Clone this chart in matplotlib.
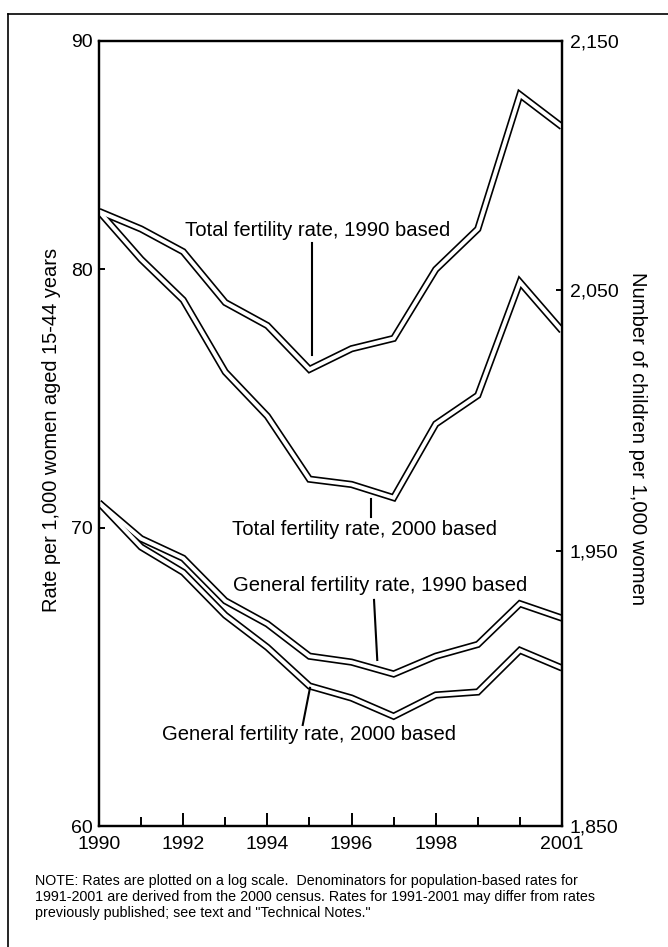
import matplotlib
matplotlib.use("Agg")
import matplotlib.pyplot as plt
from matplotlib.ticker import FixedLocator, NullLocator, FuncFormatter
from matplotlib.lines import Line2D

plt.rcParams['font.family'] = ['Liberation Sans', 'DejaVu Sans']

# ---- data ----
years = [1990, 1991, 1992, 1993, 1994, 1995, 1996, 1997, 1998, 1999, 2000, 2001]
tfr_1990_based = [2081, 2074, 2065, 2045, 2036, 2019, 2027, 2031, 2058, 2074, 2128, 2115]
tfr_2000_based = [2081, 2062, 2046, 2018, 2001, 1977, 1975, 1970, 1998, 2009, 2053, 2034]
gfr_1990_based = [70.9, 69.6, 68.9, 67.4, 66.6, 65.5, 65.3, 64.9, 65.5, 65.9, 67.3, 66.8]
gfr_2000_based = [70.9, 69.3, 68.4, 66.9, 65.8, 64.5, 64.1, 63.5, 64.2, 64.3, 65.7, 65.1]

x_major_ticks = [1990, 1992, 1994, 1996, 1998, 2001]
x_minor_ticks = [1991, 1993, 1995, 1997, 1999, 2000]
left_ticks = [60, 70, 80, 90]
right_ticks = [1850, 1950, 2050, 2150]

left_label = "Rate per 1,000 women aged 15-44 years"
right_label = "Number of children per 1,000 women"
note_lines = [
    "NOTE: Rates are plotted on a log scale.  Denominators for population-based rates for",
    "1991-2001 are derived from the 2000 census. Rates for 1991-2001 may differ from rates",
    "previously published; see text and \"Technical Notes.\"",
]

# ---- layout ----
W, H = 668, 947
fig = plt.figure(figsize=(W / 100, H / 100), dpi=100)
L, R, T, B = 99, 562, 41, 826
ax = fig.add_axes([L / W, 1 - B / H, (R - L) / W, (B - T) / H])
ax.set_yscale('log')
ax.set_ylim(60, 90)
ax.set_xlim(1990, 2001)
ax2 = ax.twinx()
ax2.set_yscale('log')
ax2.set_ylim(1850, 2150)

OUT, IN = 5.2, 2.8


def outlined(axis, pairs):
    for ys in pairs:
        axis.plot(years, ys, color='black', lw=OUT, solid_joinstyle='miter',
                  solid_capstyle='butt', zorder=3)
    for ys in pairs:
        axis.plot(years, ys, color='white', lw=IN, solid_joinstyle='miter',
                  solid_capstyle='butt', zorder=4)


outlined(ax2, [tfr_1990_based, tfr_2000_based])
outlined(ax, [gfr_1990_based, gfr_2000_based])

# spines
for a in (ax, ax2):
    for s in a.spines.values():
        s.set_linewidth(1.6)
        s.set_zorder(6)

# x ticks
ax.xaxis.set_major_locator(FixedLocator(x_major_ticks))
ax.xaxis.set_minor_locator(FixedLocator(x_minor_ticks))
ax.xaxis.set_major_formatter(FuncFormatter(lambda v, p: f"{v:.0f}"))
ax.tick_params(axis='x', which='major', direction='in', length=9.4, width=1.4,
               labelsize=14, pad=7.5, top=False)
ax.tick_params(axis='x', which='minor', direction='in', length=6.5, width=1.4, top=False)

# left y ticks
ax.yaxis.set_major_locator(FixedLocator(left_ticks))
ax.yaxis.set_minor_locator(NullLocator())
ax.yaxis.set_major_formatter(FuncFormatter(lambda v, p: f"{v:.0f}"))
ax.tick_params(axis='y', which='major', direction='in', length=4, width=1.4,
               labelsize=14, pad=4.5, right=False)

# right y ticks
ax2.yaxis.set_major_locator(FixedLocator(right_ticks))
ax2.yaxis.set_minor_locator(NullLocator())
ax2.yaxis.set_major_formatter(FuncFormatter(lambda v, p: f"{v:,.0f}"))
ax2.tick_params(axis='y', which='major', direction='in', length=4, width=1.4,
                labelsize=14, pad=5.5)

# annotations (axes-fraction positions)
ann_fs = 14.6
ax.text(0.472, 0.758, "Total fertility rate, 1990 based", transform=ax.transAxes,
        ha='center', va='center', fontsize=ann_fs, zorder=7)
ax.plot([0.459, 0.459], [0.743, 0.600], transform=ax.transAxes, color='black', lw=1.5, zorder=7)

ax.text(0.5745, 0.378, "Total fertility rate, 2000 based", transform=ax.transAxes,
        ha='center', va='center', fontsize=ann_fs, zorder=7)
ax.plot([0.587, 0.587], [0.416, 0.394], transform=ax.transAxes, color='black', lw=1.5, zorder=7)

ax.text(0.607, 0.307, "General fertility rate, 1990 based", transform=ax.transAxes,
        ha='center', va='center', fontsize=ann_fs, zorder=7)
ax.plot([0.594, 0.601], [0.288, 0.2115], transform=ax.transAxes, color='black', lw=1.5, zorder=7)

ax.text(0.4536, 0.116, "General fertility rate, 2000 based", transform=ax.transAxes,
        ha='center', va='center', fontsize=ann_fs, zorder=7)
ax.plot([0.4557, 0.44], [0.176, 0.1287], transform=ax.transAxes, color='black', lw=1.5, zorder=7)

# axis titles
fig.text(52 / W, 1 - 430 / H, left_label, rotation=90, ha='center', va='center', fontsize=14.4)
fig.text(637 / W, 1 - 439 / H, right_label, rotation=-90, ha='center', va='center', fontsize=14.6)

# note
for i, line in enumerate(note_lines):
    fig.text(35 / W, 1 - (881 + 16 * i) / H, line, ha='left', va='center', fontsize=10.3)

# page frame
fig.add_artist(Line2D([8 / W, 8 / W], [0, 1 - 14 / H], transform=fig.transFigure,
                      color='black', lw=1.2))
fig.add_artist(Line2D([8 / W, 1], [1 - 14 / H, 1 - 14 / H], transform=fig.transFigure,
                      color='black', lw=1.2))

fig.savefig("out.png", dpi=100, facecolor='white')
